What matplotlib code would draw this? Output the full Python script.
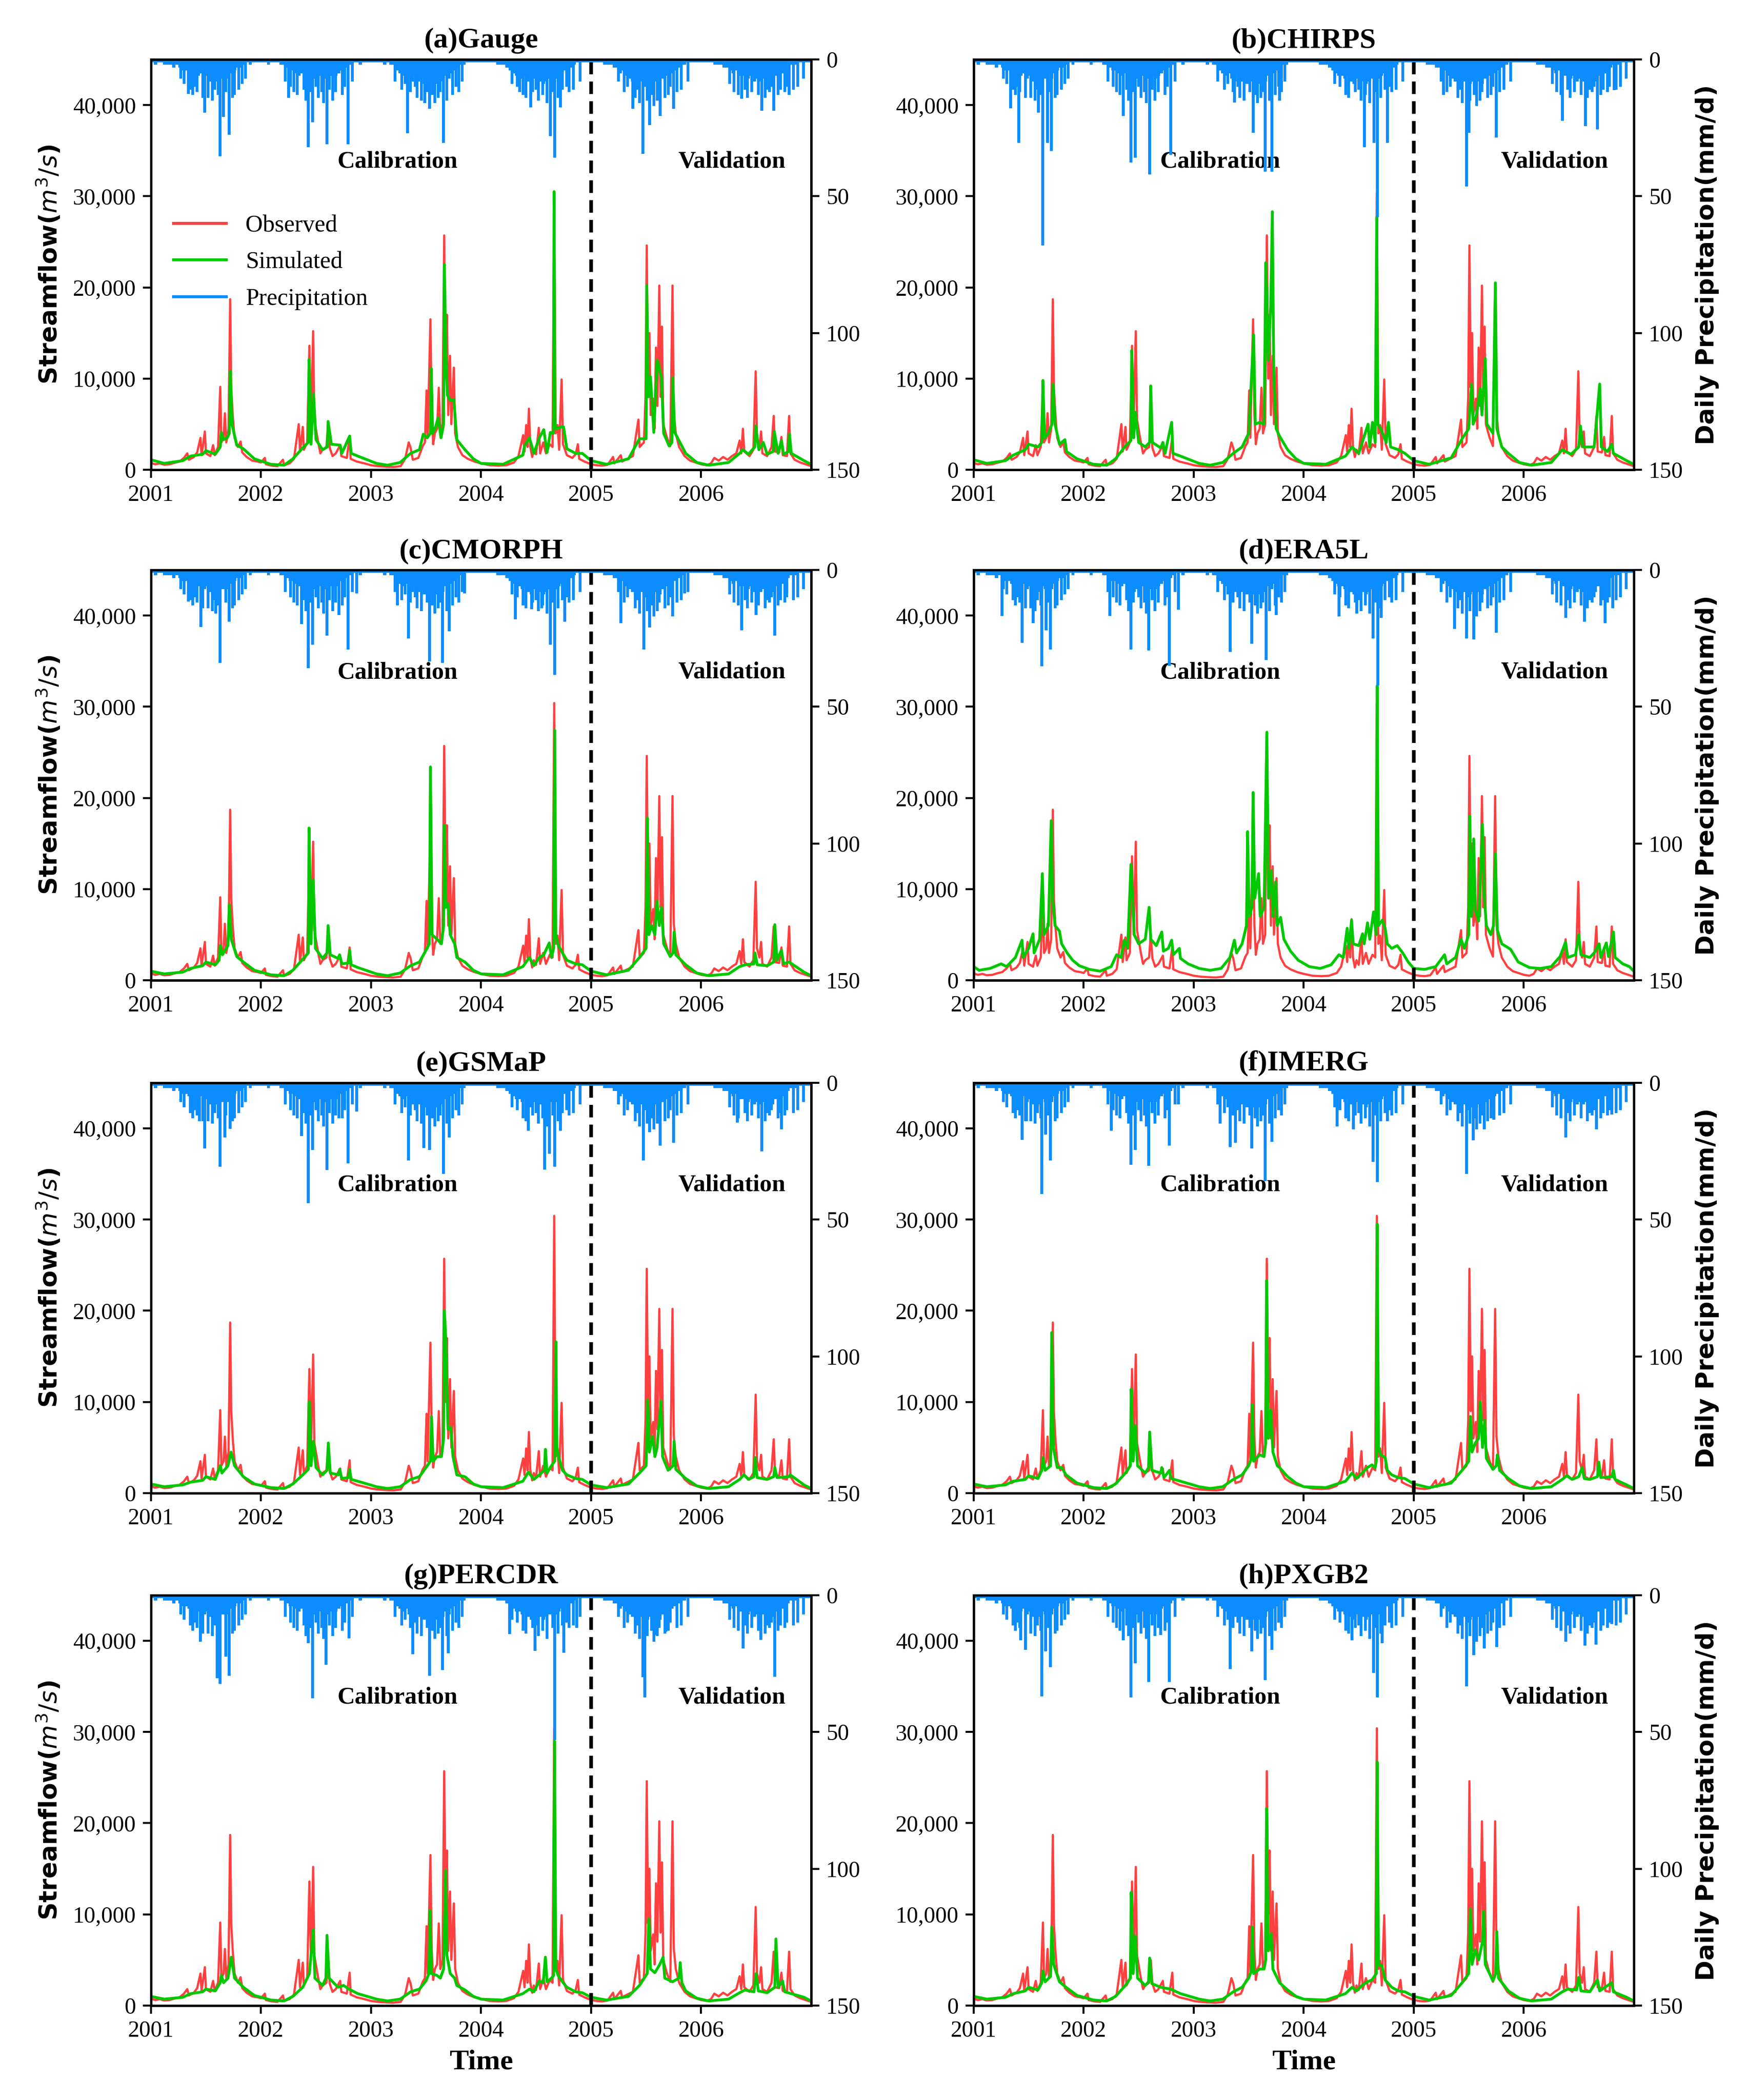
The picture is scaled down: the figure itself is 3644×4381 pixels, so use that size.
import numpy as np
import matplotlib
matplotlib.use('Agg')
from matplotlib import pyplot as plt
from matplotlib.lines import Line2D
from matplotlib.ticker import FuncFormatter

plt.rcParams['font.family'] = 'Liberation Serif'
plt.rcParams['mathtext.fontset'] = 'dejavusans'

RED = '#ff4040'
GREEN = '#00c800'
BLUE = '#0b8cff'

titles = ['(a)Gauge', '(b)CHIRPS', '(c)CMORPH', '(d)ERA5L',
          '(e)GSMaP', '(f)IMERG', '(g)PERCDR', '(h)PXGB2']

# observed streamflow (decimal year, m3/s), same in every panel
obs = [(2001.000, 1000), (2001.010, 700), (2001.040, 600), (2001.080, 700), (2001.120, 550),
       (2001.170, 600), (2001.210, 750), (2001.260, 900), (2001.300, 1300), (2001.330, 1800),
       (2001.345, 1100), (2001.390, 1400), (2001.420, 1900), (2001.450, 3500), (2001.460, 1600),
       (2001.490, 4200), (2001.500, 1800), (2001.540, 1500), (2001.565, 2700), (2001.580, 1600),
       (2001.610, 2500), (2001.630, 9100), (2001.640, 3000), (2001.660, 3500), (2001.672, 6200),
       (2001.685, 3000), (2001.705, 4500), (2001.720, 18700), (2001.730, 8900), (2001.745, 5700),
       (2001.760, 3500), (2001.790, 2500), (2001.815, 3100), (2001.830, 1900), (2001.870, 1400),
       (2001.920, 1000), (2001.970, 900), (2002.000, 800), (2002.035, 1300), (2002.045, 600),
       (2002.100, 450), (2002.150, 400), (2002.200, 1100), (2002.210, 500), (2002.260, 700),
       (2002.300, 1200), (2002.343, 5000), (2002.355, 2000), (2002.380, 4700), (2002.390, 2200),
       (2002.420, 3000), (2002.440, 13600), (2002.455, 5000), (2002.474, 15200), (2002.485, 5500),
       (2002.520, 3000), (2002.540, 1800), (2002.560, 2200), (2002.595, 2500), (2002.610, 5000),
       (2002.625, 2400), (2002.650, 1500), (2002.680, 1800), (2002.720, 2700), (2002.730, 1500),
       (2002.780, 1300), (2002.806, 3600), (2002.815, 1200), (2002.870, 900), (2002.940, 700),
       (2003.000, 500), (2003.060, 400), (2003.120, 350), (2003.200, 300), (2003.270, 400),
       (2003.310, 1200), (2003.343, 3000), (2003.360, 2400), (2003.380, 1100), (2003.430, 1300),
       (2003.470, 2600), (2003.490, 3000), (2003.505, 8700), (2003.515, 3500), (2003.540, 16500),
       (2003.552, 6000), (2003.565, 2800), (2003.580, 4000), (2003.600, 4500), (2003.616, 9000),
       (2003.630, 4000), (2003.650, 5000), (2003.665, 25700), (2003.678, 10000), (2003.690, 17000),
       (2003.702, 6000), (2003.718, 12500), (2003.730, 5000), (2003.753, 11200), (2003.765, 4000),
       (2003.790, 2500), (2003.830, 1600), (2003.880, 1200), (2003.940, 900), (2004.000, 700),
       (2004.080, 500), (2004.160, 450), (2004.230, 500), (2004.300, 800), (2004.340, 1500),
       (2004.383, 3800), (2004.395, 2000), (2004.410, 4900), (2004.422, 2500), (2004.435, 6700),
       (2004.448, 2500), (2004.465, 1400), (2004.480, 2200), (2004.500, 1700), (2004.525, 4600),
       (2004.537, 1800), (2004.566, 3000), (2004.590, 1800), (2004.625, 2800), (2004.650, 2500),
       (2004.665, 30400), (2004.678, 4000), (2004.695, 4900), (2004.710, 2200), (2004.732, 9900),
       (2004.745, 2800), (2004.780, 1600), (2004.830, 1300), (2004.860, 1700), (2004.880, 2800),
       (2004.892, 1200), (2004.940, 900), (2005.000, 600), (2005.050, 500), (2005.100, 450),
       (2005.150, 550), (2005.200, 1400), (2005.212, 700), (2005.270, 1600), (2005.282, 900),
       (2005.330, 1200), (2005.380, 1500), (2005.430, 5500), (2005.442, 2500), (2005.480, 3000),
       (2005.495, 8000), (2005.506, 24600), (2005.518, 9000), (2005.530, 15000), (2005.542, 6000),
       (2005.565, 7800), (2005.577, 4500), (2005.590, 13400), (2005.603, 7000), (2005.620, 20200),
       (2005.632, 8000), (2005.644, 15700), (2005.656, 5000), (2005.690, 3500), (2005.720, 2600),
       (2005.740, 20200), (2005.752, 6200), (2005.770, 4000), (2005.800, 2500), (2005.850, 1500),
       (2005.900, 1000), (2005.950, 800), (2006.000, 600), (2006.050, 500), (2006.090, 700),
       (2006.120, 1300), (2006.160, 1000), (2006.200, 1400), (2006.240, 1100), (2006.280, 1500),
       (2006.320, 1800), (2006.350, 3200), (2006.365, 1800), (2006.380, 4500), (2006.392, 2000),
       (2006.440, 1500), (2006.475, 2200), (2006.496, 10800), (2006.508, 3500), (2006.530, 2500),
       (2006.545, 4200), (2006.557, 1800), (2006.600, 1500), (2006.640, 2500), (2006.660, 5900),
       (2006.672, 2000), (2006.710, 1900), (2006.730, 3600), (2006.742, 1600), (2006.780, 1500),
       (2006.800, 5900), (2006.812, 1800), (2006.850, 1100), (2006.900, 800), (2006.950, 600),
       (2007.000, 400)]

# simulated streamflow per product
sim_gauge = [(2001.000, 1100), (2001.120, 700), (2001.290, 1000), (2001.360, 1500), (2001.470, 1700),
             (2001.500, 2100), (2001.585, 1700), (2001.630, 2500), (2001.640, 4100), (2001.660, 3300),
             (2001.693, 3500), (2001.712, 4000), (2001.722, 10800), (2001.738, 4900), (2001.780, 2700),
             (2001.840, 2300), (2001.940, 1200), (2002.090, 600), (2002.210, 500), (2002.290, 1200),
             (2002.380, 2400), (2002.430, 3000), (2002.437, 12100), (2002.455, 2800), (2002.478, 8300),
             (2002.500, 3300), (2002.560, 2200), (2002.603, 2500), (2002.610, 5300), (2002.640, 2800),
             (2002.720, 2700), (2002.735, 1800), (2002.806, 3700), (2002.820, 1800), (2002.880, 1500),
             (2003.050, 700), (2003.150, 500), (2003.265, 800), (2003.360, 1800), (2003.440, 2200),
             (2003.475, 3900), (2003.510, 3500), (2003.540, 4000), (2003.548, 11100), (2003.560, 4000),
             (2003.587, 4700), (2003.610, 5700), (2003.636, 3500), (2003.660, 5000), (2003.667, 22500),
             (2003.680, 13000), (2003.694, 8200), (2003.720, 7600), (2003.753, 7700), (2003.780, 3300),
             (2003.854, 2200), (2003.930, 1200), (2004.000, 700), (2004.200, 600), (2004.380, 1600),
             (2004.395, 2600), (2004.440, 3500), (2004.480, 1800), (2004.530, 3500), (2004.570, 4400),
             (2004.600, 1900), (2004.630, 4100), (2004.658, 4000), (2004.664, 30500), (2004.672, 5000),
             (2004.685, 4500), (2004.730, 4700), (2004.750, 4700), (2004.780, 2300), (2004.860, 1800),
             (2004.920, 1800), (2005.000, 1000), (2005.140, 600), (2005.340, 1200), (2005.440, 3400),
             (2005.500, 3400), (2005.506, 20200), (2005.520, 8000), (2005.540, 10200), (2005.570, 4100),
             (2005.600, 12000), (2005.610, 11700), (2005.640, 10000), (2005.660, 4000), (2005.710, 2600),
             (2005.735, 3000), (2005.742, 10100), (2005.760, 4100), (2005.860, 1800), (2005.960, 800),
             (2006.070, 500), (2006.250, 800), (2006.350, 1800), (2006.380, 2200), (2006.430, 1700),
             (2006.488, 2500), (2006.496, 4800), (2006.525, 2200), (2006.565, 3000), (2006.600, 1700),
             (2006.655, 2000), (2006.665, 4200), (2006.700, 1800), (2006.730, 3200), (2006.750, 1700),
             (2006.795, 2000), (2006.803, 3900), (2006.820, 1800), (2006.935, 1000), (2007.000, 600)]

sim_chirps = [(2001.000, 1100), (2001.120, 700), (2001.290, 1000), (2001.360, 1600), (2001.470, 2200),
              (2001.500, 2800), (2001.585, 2500), (2001.620, 3000), (2001.630, 9800), (2001.645, 3500),
              (2001.680, 4000), (2001.712, 5000), (2001.722, 9400), (2001.740, 5000), (2001.780, 2800),
              (2001.830, 3300), (2001.845, 2000), (2001.940, 1200), (2002.090, 600), (2002.210, 500),
              (2002.290, 1200), (2002.380, 2600), (2002.430, 3200), (2002.437, 13100), (2002.455, 3500),
              (2002.470, 6300), (2002.500, 3000), (2002.560, 2500), (2002.600, 3000), (2002.610, 9200),
              (2002.625, 3000), (2002.700, 2400), (2002.720, 3000), (2002.740, 1800), (2002.800, 5200),
              (2002.812, 1800), (2002.880, 1500), (2003.050, 700), (2003.150, 500), (2003.265, 800),
              (2003.360, 1800), (2003.440, 2500), (2003.500, 4000), (2003.545, 14800), (2003.560, 5000),
              (2003.600, 5200), (2003.640, 5000), (2003.655, 22700), (2003.665, 18900), (2003.678, 12000),
              (2003.700, 18000), (2003.715, 28300), (2003.728, 10400), (2003.750, 4500), (2003.780, 3700),
              (2003.854, 2200), (2003.930, 1200), (2004.000, 700), (2004.200, 600), (2004.380, 1500),
              (2004.440, 2500), (2004.500, 1800), (2004.540, 3300), (2004.585, 5000), (2004.600, 2500),
              (2004.625, 5200), (2004.650, 3000), (2004.664, 27700), (2004.672, 5000), (2004.700, 4500),
              (2004.750, 3000), (2004.770, 5200), (2004.790, 2500), (2004.860, 2200), (2004.920, 1800),
              (2005.000, 1000), (2005.140, 600), (2005.340, 1300), (2005.440, 3400), (2005.500, 4500),
              (2005.525, 9400), (2005.540, 5000), (2005.570, 6000), (2005.605, 8900), (2005.620, 6000),
              (2005.650, 12200), (2005.665, 5000), (2005.720, 4000), (2005.742, 20500), (2005.756, 4500),
              (2005.800, 2500), (2005.860, 1800), (2005.960, 800), (2006.070, 500), (2006.250, 800),
              (2006.350, 2200), (2006.380, 2000), (2006.430, 1700), (2006.500, 2500), (2006.515, 4800),
              (2006.540, 2500), (2006.640, 2500), (2006.690, 9400), (2006.705, 2500), (2006.760, 2000),
              (2006.800, 2800), (2006.815, 1800), (2006.935, 1000), (2007.000, 600)]

sim_cmorph = [(2001.000, 1000), (2001.120, 700), (2001.290, 900), (2001.360, 1300), (2001.470, 1600),
              (2001.500, 2000), (2001.585, 1700), (2001.620, 2200), (2001.630, 3800), (2001.650, 2800),
              (2001.700, 3800), (2001.712, 8300), (2001.730, 4500), (2001.780, 2600), (2001.840, 2000),
              (2001.940, 1100), (2002.090, 600), (2002.210, 500), (2002.290, 1100), (2002.380, 2300),
              (2002.430, 3000), (2002.437, 16700), (2002.455, 4000), (2002.475, 11000), (2002.495, 3500),
              (2002.560, 2400), (2002.600, 3000), (2002.610, 6000), (2002.630, 2800), (2002.700, 2400),
              (2002.715, 2800), (2002.735, 1800), (2002.795, 1900), (2002.806, 3300), (2002.820, 1700),
              (2002.880, 1400), (2003.050, 700), (2003.150, 500), (2003.265, 800), (2003.360, 1600),
              (2003.440, 2000), (2003.500, 3300), (2003.530, 4000), (2003.540, 23400), (2003.555, 5000),
              (2003.600, 4500), (2003.640, 4000), (2003.660, 6000), (2003.667, 17000), (2003.680, 8000),
              (2003.700, 8400), (2003.720, 5000), (2003.760, 4000), (2003.780, 2500), (2003.854, 2000),
              (2003.930, 1100), (2004.000, 700), (2004.200, 600), (2004.380, 1500), (2004.440, 2500),
              (2004.480, 1600), (2004.530, 2500), (2004.570, 2800), (2004.620, 4100), (2004.640, 2500),
              (2004.660, 3500), (2004.670, 27400), (2004.680, 5000), (2004.700, 3900), (2004.740, 3000),
              (2004.780, 2200), (2004.860, 1800), (2004.920, 1700), (2005.000, 1000), (2005.140, 600),
              (2005.340, 1100), (2005.440, 2500), (2005.500, 3500), (2005.512, 17800), (2005.525, 5000),
              (2005.550, 6000), (2005.580, 5000), (2005.600, 8700), (2005.620, 6000), (2005.640, 8000),
              (2005.660, 4000), (2005.720, 2600), (2005.745, 3000), (2005.755, 5300), (2005.770, 2800),
              (2005.860, 1700), (2005.960, 800), (2006.070, 500), (2006.250, 700), (2006.350, 1500),
              (2006.400, 1700), (2006.480, 1800), (2006.490, 3000), (2006.510, 1700), (2006.600, 1600),
              (2006.660, 2000), (2006.670, 6100), (2006.690, 2200), (2006.730, 3300), (2006.750, 1800),
              (2006.800, 2000), (2006.935, 900), (2007.000, 500)]

sim_era5l = [(2001.000, 1500), (2001.050, 1100), (2001.150, 1300), (2001.250, 1800), (2001.300, 1500),
             (2001.380, 2500), (2001.440, 4400), (2001.450, 2500), (2001.500, 3500), (2001.540, 5100),
             (2001.550, 3000), (2001.600, 4500), (2001.625, 11700), (2001.640, 5000), (2001.680, 6000),
             (2001.705, 17500), (2001.718, 9000), (2001.740, 6000), (2001.780, 5400), (2001.800, 4000),
             (2001.850, 3000), (2001.900, 2200), (2001.960, 1600), (2002.050, 1200), (2002.150, 1000),
             (2002.250, 1500), (2002.300, 2800), (2002.340, 2500), (2002.370, 4400), (2002.400, 3500),
             (2002.430, 12700), (2002.445, 9100), (2002.460, 5000), (2002.500, 4000), (2002.560, 4500),
             (2002.595, 8000), (2002.610, 4500), (2002.660, 3800), (2002.710, 5300), (2002.725, 3200),
             (2002.770, 3500), (2002.800, 4400), (2002.815, 2800), (2002.870, 3500), (2002.880, 2400),
             (2002.950, 1800), (2003.050, 1300), (2003.150, 1100), (2003.250, 1300), (2003.330, 2500),
             (2003.370, 4400), (2003.390, 3000), (2003.440, 4000), (2003.480, 6000), (2003.490, 16300),
             (2003.505, 7000), (2003.530, 8000), (2003.540, 20600), (2003.555, 9000), (2003.590, 11700),
             (2003.605, 7000), (2003.640, 8000), (2003.665, 27200), (2003.680, 9000), (2003.705, 12000),
             (2003.720, 7000), (2003.745, 10800), (2003.760, 6000), (2003.790, 6900), (2003.820, 4500),
             (2003.880, 3200), (2003.950, 2200), (2004.050, 1500), (2004.150, 1300), (2004.250, 1700),
             (2004.320, 2800), (2004.360, 2500), (2004.395, 5700), (2004.410, 3500), (2004.435, 6600),
             (2004.450, 4000), (2004.500, 3800), (2004.535, 5100), (2004.550, 4000), (2004.580, 6300),
             (2004.600, 4500), (2004.635, 7500), (2004.658, 5000), (2004.668, 32300), (2004.680, 6000),
             (2004.715, 6600), (2004.740, 5700), (2004.760, 4000), (2004.800, 3500), (2004.850, 3800),
             (2004.900, 3000), (2004.950, 2000), (2005.000, 1300), (2005.100, 1200), (2005.200, 1500),
             (2005.280, 2800), (2005.300, 1800), (2005.380, 2500), (2005.430, 4500), (2005.460, 3500),
             (2005.500, 5000), (2005.510, 18000), (2005.525, 7000), (2005.545, 15500), (2005.560, 7700),
             (2005.590, 6500), (2005.625, 17100), (2005.640, 9400), (2005.660, 6000), (2005.700, 5000),
             (2005.725, 6000), (2005.742, 13900), (2005.760, 5500), (2005.800, 4000), (2005.880, 3400),
             (2005.950, 2000), (2006.050, 1400), (2006.150, 1300), (2006.250, 1500), (2006.330, 2600),
             (2006.380, 4200), (2006.400, 2500), (2006.470, 2800), (2006.500, 5000), (2006.520, 2800),
             (2006.600, 2500), (2006.640, 3000), (2006.685, 4000), (2006.700, 2500), (2006.750, 4100),
             (2006.770, 2600), (2006.815, 5300), (2006.830, 2500), (2006.900, 1800), (2006.960, 1500),
             (2007.000, 1000)]

sim_gsmap = [(2001.000, 1000), (2001.120, 700), (2001.290, 900), (2001.360, 1200), (2001.470, 1400),
             (2001.500, 1800), (2001.585, 1500), (2001.630, 3000), (2001.645, 2200), (2001.700, 3000),
             (2001.728, 4500), (2001.760, 3000), (2001.840, 1800), (2001.940, 1000), (2002.090, 600),
             (2002.210, 500), (2002.290, 1000), (2002.380, 2000), (2002.430, 2600), (2002.440, 10000),
             (2002.455, 3000), (2002.478, 5700), (2002.500, 2800), (2002.560, 2000), (2002.600, 2500),
             (2002.612, 5500), (2002.630, 2200), (2002.705, 2000), (2002.715, 2600), (2002.735, 1600),
             (2002.795, 1700), (2002.806, 2600), (2002.820, 1500), (2002.880, 1300), (2003.050, 700),
             (2003.150, 500), (2003.265, 700), (2003.360, 1500), (2003.440, 1800), (2003.500, 2800),
             (2003.540, 3500), (2003.550, 8400), (2003.565, 3500), (2003.600, 4000), (2003.640, 4000),
             (2003.660, 6000), (2003.667, 20000), (2003.680, 16900), (2003.700, 7000), (2003.725, 7200),
             (2003.745, 4000), (2003.780, 2000), (2003.854, 1800), (2003.930, 1000), (2004.000, 700),
             (2004.200, 600), (2004.380, 1300), (2004.430, 2300), (2004.480, 1500), (2004.530, 2000),
             (2004.575, 2500), (2004.585, 4800), (2004.600, 2200), (2004.640, 3000), (2004.670, 3500),
             (2004.680, 16600), (2004.690, 5000), (2004.705, 4000), (2004.740, 2500), (2004.780, 2000),
             (2004.860, 1600), (2004.920, 1500), (2005.000, 900), (2005.140, 600), (2005.340, 1000),
             (2005.440, 2200), (2005.500, 3000), (2005.515, 10200), (2005.530, 4500), (2005.560, 6200),
             (2005.580, 4000), (2005.600, 5000), (2005.635, 10100), (2005.650, 4000), (2005.700, 2500),
             (2005.745, 3000), (2005.755, 5700), (2005.770, 2600), (2005.860, 1600), (2005.960, 800),
             (2006.070, 500), (2006.250, 700), (2006.350, 1500), (2006.390, 2000), (2006.430, 1500),
             (2006.480, 1800), (2006.490, 3900), (2006.510, 1700), (2006.600, 1500), (2006.660, 1800),
             (2006.670, 2800), (2006.690, 1700), (2006.800, 1800), (2006.810, 2000), (2006.935, 900),
             (2007.000, 500)]

sim_imerg = [(2001.000, 1000), (2001.120, 700), (2001.290, 900), (2001.360, 1300), (2001.470, 1500),
             (2001.500, 1900), (2001.585, 1600), (2001.620, 2500), (2001.630, 3900), (2001.650, 2500),
             (2001.700, 3000), (2001.710, 17600), (2001.725, 5000), (2001.760, 2800), (2001.800, 2800),
             (2001.840, 2000), (2001.940, 1100), (2002.090, 600), (2002.210, 500), (2002.290, 1000),
             (2002.380, 2200), (2002.425, 3000), (2002.432, 11400), (2002.450, 3500), (2002.470, 7400),
             (2002.490, 3000), (2002.560, 2200), (2002.590, 2800), (2002.600, 6700), (2002.620, 2500),
             (2002.700, 2200), (2002.710, 2800), (2002.730, 1700), (2002.780, 2500), (2002.795, 1600),
             (2002.880, 1300), (2003.050, 700), (2003.150, 500), (2003.265, 700), (2003.360, 1500),
             (2003.440, 2000), (2003.500, 3000), (2003.525, 3800), (2003.532, 9700), (2003.545, 3500),
             (2003.600, 4200), (2003.640, 4000), (2003.655, 5500), (2003.662, 23300), (2003.678, 6000),
             (2003.700, 9100), (2003.720, 4500), (2003.760, 3000), (2003.780, 2800), (2003.854, 1800),
             (2003.930, 1100), (2004.000, 700), (2004.200, 600), (2004.380, 1300), (2004.440, 2200),
             (2004.480, 1600), (2004.530, 2200), (2004.580, 2800), (2004.620, 3100), (2004.650, 2800),
             (2004.660, 3500), (2004.668, 29500), (2004.680, 5000), (2004.700, 4200), (2004.740, 3900),
             (2004.760, 2500), (2004.800, 2000), (2004.860, 1700), (2004.920, 1600), (2005.000, 1000),
             (2005.140, 600), (2005.340, 1100), (2005.440, 2500), (2005.500, 3500), (2005.515, 8400),
             (2005.530, 4500), (2005.560, 5500), (2005.590, 6000), (2005.605, 10000), (2005.625, 5000),
             (2005.645, 8000), (2005.660, 3800), (2005.720, 2600), (2005.750, 3000), (2005.760, 4200),
             (2005.780, 2500), (2005.860, 1600), (2005.960, 800), (2006.070, 500), (2006.250, 700),
             (2006.350, 1500), (2006.390, 1900), (2006.440, 1500), (2006.500, 1800), (2006.530, 2800),
             (2006.550, 1600), (2006.600, 1500), (2006.670, 1800), (2006.682, 3400), (2006.700, 1700),
             (2006.800, 1800), (2006.815, 2500), (2006.830, 1500), (2006.935, 900), (2007.000, 500)]

sim_percdr = [(2001.000, 1000), (2001.120, 700), (2001.290, 900), (2001.360, 1300), (2001.470, 1500),
              (2001.500, 1800), (2001.585, 1600), (2001.630, 2500), (2001.640, 3300), (2001.660, 2500),
              (2001.700, 3000), (2001.730, 5300), (2001.760, 3000), (2001.840, 2000), (2001.940, 1100),
              (2002.090, 600), (2002.210, 500), (2002.290, 1000), (2002.380, 2000), (2002.440, 3500),
              (2002.475, 8300), (2002.490, 3000), (2002.560, 2200), (2002.590, 3000), (2002.600, 7700),
              (2002.620, 3000), (2002.700, 2000), (2002.750, 2200), (2002.800, 1800), (2002.880, 1300),
              (2003.050, 700), (2003.150, 500), (2003.265, 700), (2003.360, 1500), (2003.440, 1800),
              (2003.500, 2700), (2003.527, 3500), (2003.535, 10400), (2003.550, 3500), (2003.600, 3300),
              (2003.630, 3000), (2003.660, 4000), (2003.678, 14800), (2003.690, 5500), (2003.720, 3500),
              (2003.760, 3000), (2003.780, 2200), (2003.854, 1700), (2003.930, 1000), (2004.000, 700),
              (2004.200, 600), (2004.380, 1300), (2004.440, 1800), (2004.480, 1500), (2004.530, 2700),
              (2004.565, 2500), (2004.585, 5300), (2004.600, 2600), (2004.640, 3000), (2004.660, 3300),
              (2004.668, 29000), (2004.680, 4000), (2004.700, 3300), (2004.740, 2600), (2004.780, 2000),
              (2004.860, 1500), (2004.920, 1400), (2005.000, 900), (2005.140, 600), (2005.340, 1000),
              (2005.440, 2200), (2005.510, 3500), (2005.525, 9500), (2005.540, 4000), (2005.580, 3600),
              (2005.620, 4400), (2005.655, 5300), (2005.670, 3000), (2005.740, 2600), (2005.800, 3000),
              (2005.810, 4700), (2005.825, 2500), (2005.860, 1600), (2005.960, 800), (2006.070, 500),
              (2006.250, 700), (2006.350, 1400), (2006.400, 1700), (2006.480, 1500), (2006.500, 3500),
              (2006.520, 1600), (2006.600, 1400), (2006.670, 2000), (2006.680, 7300), (2006.700, 2000),
              (2006.740, 2700), (2006.760, 1500), (2006.935, 900), (2007.000, 500)]

sim_pxgb2 = [(2001.000, 1000), (2001.120, 700), (2001.290, 900), (2001.360, 1300), (2001.470, 1600),
             (2001.500, 2000), (2001.585, 1700), (2001.620, 2500), (2001.630, 3800), (2001.650, 2600),
             (2001.700, 3200), (2001.710, 8600), (2001.728, 4500), (2001.780, 2600), (2001.840, 2000),
             (2001.940, 1100), (2002.090, 600), (2002.210, 500), (2002.290, 1000), (2002.380, 2200),
             (2002.425, 3000), (2002.432, 12400), (2002.450, 3500), (2002.470, 7600), (2002.490, 3000),
             (2002.560, 2200), (2002.590, 2600), (2002.600, 5200), (2002.620, 2400), (2002.700, 2000),
             (2002.790, 1800), (2002.880, 1300), (2003.050, 700), (2003.150, 500), (2003.265, 700),
             (2003.360, 1500), (2003.440, 2000), (2003.500, 3000), (2003.525, 3800), (2003.532, 8600),
             (2003.545, 3500), (2003.600, 4000), (2003.640, 4000), (2003.655, 5000), (2003.662, 21600),
             (2003.678, 6000), (2003.705, 7900), (2003.720, 4000), (2003.780, 2500), (2003.854, 1700),
             (2003.930, 1000), (2004.000, 700), (2004.200, 600), (2004.380, 1300), (2004.440, 2000),
             (2004.480, 1600), (2004.530, 2200), (2004.580, 2600), (2004.620, 2800), (2004.660, 3500),
             (2004.668, 26700), (2004.680, 4400), (2004.710, 4400), (2004.740, 2800), (2004.800, 2000),
             (2004.860, 1600), (2004.920, 1500), (2005.000, 1000), (2005.140, 600), (2005.340, 1100),
             (2005.440, 2500), (2005.500, 3500), (2005.515, 10600), (2005.530, 4500), (2005.560, 6100),
             (2005.590, 5000), (2005.625, 7000), (2005.635, 10300), (2005.650, 4500), (2005.720, 2700),
             (2005.745, 3500), (2005.755, 8100), (2005.770, 3000), (2005.860, 1600), (2005.960, 800),
             (2006.070, 500), (2006.250, 700), (2006.350, 1500), (2006.400, 1800), (2006.480, 1700),
             (2006.500, 3100), (2006.520, 1600), (2006.600, 1500), (2006.670, 2800), (2006.690, 1600),
             (2006.800, 2500), (2006.815, 1500), (2006.935, 900), (2007.000, 500)]

# typical daily rain (mm/d), 10-day blocks, 36 per year, shared by all products
rain_base = [1, 2, 1, 1, 2, 2, 2, 3, 2, 3, 4, 4, 5, 4, 6, 6, 5, 7, 6, 8, 7, 8, 6, 7, 6, 7, 5, 4, 3, 3, 2, 1, 2, 1, 1, 1,
             1, 1, 2, 1, 1, 1, 2, 2, 3, 4, 4, 5, 6, 5, 7, 6, 8, 7, 8, 6, 9, 7, 6, 7, 6, 5, 4, 3, 3, 2, 1, 1, 2, 1, 1, 1,
             1, 1, 1, 1, 2, 1, 2, 2, 4, 5, 6, 5, 7, 8, 6, 8, 7, 9, 8, 9, 8, 9, 7, 8, 6, 7, 5, 4, 3, 2, 2, 1, 1, 1, 1, 1,
             1, 1, 1, 1, 1, 2, 2, 2, 3, 4, 5, 6, 6, 7, 6, 8, 9, 7, 9, 8, 9, 8, 7, 8, 7, 6, 5, 4, 3, 3, 2, 1, 1, 1, 1, 1,
             1, 1, 1, 1, 2, 2, 2, 3, 3, 5, 4, 6, 7, 8, 8, 9, 8, 10, 9, 8, 9, 8, 9, 7, 6, 6, 5, 4, 3, 2, 2, 1, 1, 1, 1, 1,
             1, 1, 1, 1, 2, 2, 2, 3, 3, 4, 5, 4, 6, 6, 7, 7, 6, 8, 7, 8, 7, 8, 7, 8, 6, 6, 5, 4, 3, 2, 2, 2, 1, 1, 1, 1]

# medium rain days shared by all products
rain_mid = [(2001.27, 7), (2001.30, 9), (2001.36, 11), (2001.38, 13), (2001.40, 10), (2001.42, 12),
            (2001.47, 14), (2001.52, 14), (2001.56, 15), (2001.58, 11), (2001.61, 13), (2001.68, 12),
            (2001.74, 14), (2001.76, 13), (2001.80, 11), (2001.83, 9), (2001.86, 7),
            (2002.22, 8), (2002.27, 10), (2002.30, 12), (2002.33, 13), (2002.39, 11), (2002.41, 15),
            (2002.45, 12), (2002.50, 10), (2002.52, 14), (2002.55, 12), (2002.57, 16), (2002.62, 11),
            (2002.65, 15), (2002.68, 12), (2002.74, 13), (2002.76, 10), (2002.83, 8),
            (2003.22, 8), (2003.28, 11), (2003.31, 9), (2003.36, 12), (2003.40, 10), (2003.42, 14),
            (2003.46, 15), (2003.51, 12), (2003.56, 13), (2003.58, 16), (2003.61, 14), (2003.63, 12),
            (2003.69, 15), (2003.74, 13), (2003.77, 10), (2003.80, 12), (2003.83, 8),
            (2004.28, 9), (2004.33, 10), (2004.38, 13), (2004.41, 14), (2004.47, 12), (2004.50, 11),
            (2004.52, 15), (2004.56, 13), (2004.60, 16), (2004.65, 12), (2004.70, 14), (2004.74, 11),
            (2004.78, 10), (2004.80, 12), (2004.84, 11), (2004.90, 8),
            (2005.25, 8), (2005.30, 12), (2005.33, 10), (2005.40, 14), (2005.42, 11), (2005.44, 16),
            (2005.51, 15), (2005.55, 13), (2005.57, 17), (2005.60, 15), (2005.62, 12), (2005.67, 14),
            (2005.70, 13), (2005.72, 10), (2005.78, 12), (2005.82, 11), (2005.88, 8),
            (2006.26, 9), (2006.30, 12), (2006.34, 13), (2006.40, 11), (2006.42, 14), (2006.46, 12),
            (2006.52, 13), (2006.58, 14), (2006.60, 11), (2006.62, 12), (2006.64, 10), (2006.70, 13),
            (2006.72, 11), (2006.76, 12), (2006.78, 10), (2006.84, 11), (2006.88, 10), (2006.93, 7)]

# heavy rain days per product (decimal year, mm/d)
rain_gauge = [(2001.34, 12.6), (2001.49, 19.4), (2001.63, 35.4), (2001.66, 21), (2001.71, 27.6),
              (2002.25, 14), (2002.43, 32), (2002.47, 23), (2002.60, 31), (2002.79, 31),
              (2003.33, 27), (2003.49, 16), (2003.53, 18), (2003.66, 30.5), (2004.35, 12),
              (2004.45, 17.5), (2004.63, 28), (2004.67, 36), (2004.72, 17.5), (2005.38, 18),
              (2005.47, 34.5), (2005.53, 24), (2005.63, 20.6), (2005.75, 18), (2006.37, 14.4),
              (2006.55, 18.7), (2006.66, 18.7), (2006.80, 13)]
rain_chirps = [(2001.335, 17.9), (2001.41, 30.5), (2001.59, 19.4), (2001.63, 68), (2001.67, 30.5),
               (2001.705, 33.5), (2002.36, 20.6), (2002.43, 37.6), (2002.47, 36), (2002.60, 42),
               (2002.79, 34.8), (2003.37, 15.7), (2003.54, 26.8), (2003.65, 41), (2003.71, 41),
               (2003.78, 15), (2004.55, 32), (2004.64, 30.5), (2004.67, 57.6), (2004.76, 30.5),
               (2005.27, 13), (2005.48, 46.5), (2005.50, 26.8), (2005.75, 28.6), (2006.35, 22.4),
               (2006.56, 24.3), (2006.67, 25.5), (2006.82, 11.3)]
rain_cmorph = [(2001.34, 11.6), (2001.455, 20.8), (2001.59, 16), (2001.63, 34), (2001.71, 19),
               (2002.37, 19.8), (2002.43, 36), (2002.47, 27.4), (2002.60, 24), (2002.71, 16.5),
               (2002.79, 29), (2002.87, 8.6), (2003.24, 13), (2003.34, 25), (2003.53, 33.4),
               (2003.65, 34), (2003.71, 22.5), (2003.85, 8.6), (2004.31, 18), (2004.46, 14.3),
               (2004.55, 14), (2004.63, 27.4), (2004.67, 38.3), (2004.76, 19), (2005.27, 19.5),
               (2005.48, 29), (2005.53, 21), (2005.74, 17), (2005.85, 8.6), (2006.37, 22),
               (2006.50, 16.5), (2006.67, 24), (2006.78, 8.6)]
rain_era5l = [(2001.26, 16.8), (2001.44, 26.6), (2001.54, 19.5), (2001.62, 35.3), (2001.66, 22),
              (2001.70, 29), (2002.24, 16.8), (2002.43, 29), (2002.59, 29.4), (2002.78, 35),
              (2002.86, 14.5), (2003.33, 30), (2003.53, 27), (2003.66, 33), (2003.75, 16.5),
              (2004.32, 17), (2004.48, 16), (2004.63, 25), (2004.675, 42.3), (2004.705, 17.5),
              (2005.37, 21.5), (2005.48, 25), (2005.545, 25.4), (2005.75, 23), (2006.38, 17.5),
              (2006.55, 19), (2006.74, 19.5), (2006.81, 14)]
rain_gsmap = [(2001.44, 14), (2001.49, 24), (2001.63, 30.7), (2001.67, 20), (2001.72, 16.8),
              (2002.37, 19.5), (2002.43, 44), (2002.47, 24.5), (2002.60, 32), (2002.71, 13),
              (2002.79, 29.4), (2002.87, 10.6), (2003.34, 28.4), (2003.48, 23.8), (2003.53, 24.5),
              (2003.66, 33.4), (2003.71, 20), (2004.43, 17.5), (2004.58, 31.7), (2004.62, 26),
              (2004.67, 30.7), (2004.72, 17.5), (2005.475, 28.4), (2005.53, 18), (2005.63, 23),
              (2005.75, 22), (2006.33, 14.5), (2006.55, 25), (2006.73, 17)]
rain_imerg = [(2001.44, 20.8), (2001.48, 14), (2001.62, 40.6), (2001.655, 19), (2001.70, 28.4),
              (2002.25, 17.5), (2002.43, 30), (2002.47, 24.5), (2002.59, 30.4), (2002.78, 23),
              (2002.86, 8), (2003.24, 15), (2003.33, 23.5), (2003.38, 22), (2003.53, 24),
              (2003.65, 36), (2003.71, 21.5), (2004.305, 16), (2004.45, 17), (2004.63, 29),
              (2004.67, 36.3), (2004.76, 14), (2005.48, 33.4), (2005.54, 21), (2005.64, 17),
              (2005.73, 13.6), (2006.38, 20), (2006.66, 17), (2006.80, 11.6)]
rain_percdr = [(2001.45, 17), (2001.60, 30.4), (2001.63, 32.5), (2001.68, 22.5), (2001.71, 29.5),
               (2002.43, 17.6), (2002.47, 37.7), (2002.59, 25.5), (2002.80, 15.8), (2003.38, 21.6),
               (2003.53, 29.5), (2003.65, 27.3), (2003.70, 21.3), (2004.26, 14.3), (2004.49, 20.4),
               (2004.668, 53), (2004.75, 21), (2004.87, 12), (2005.47, 30), (2005.49, 37.4),
               (2005.58, 14.6), (2005.68, 13.4), (2006.38, 19.4), (2006.545, 16.4), (2006.67, 29.8)]
rain_pxgb2 = [(2001.43, 16.5), (2001.47, 20), (2001.62, 37), (2001.655, 20.5), (2001.70, 26.4),
              (2002.36, 16.5), (2002.43, 37.3), (2002.47, 25), (2002.59, 31.7), (2002.70, 14.5),
              (2002.78, 31.7), (2003.33, 27), (2003.53, 20.5), (2003.65, 31), (2003.71, 20),
              (2004.44, 16.5), (2004.635, 28.4), (2004.67, 37.3), (2004.715, 17.5), (2005.48, 33.4),
              (2005.545, 22), (2005.64, 19.5), (2005.755, 19), (2006.38, 17), (2006.555, 18.5),
              (2006.655, 18), (2006.80, 10.6)]

sims = [sim_gauge, sim_chirps, sim_cmorph, sim_era5l, sim_gsmap, sim_imerg, sim_percdr, sim_pxgb2]
rains = [rain_gauge, rain_chirps, rain_cmorph, rain_era5l, rain_gsmap, rain_imerg, rain_percdr, rain_pxgb2]

obs_t, obs_q = np.array(obs).T
mid_t, mid_p = np.array(rain_mid).T
base_x = 2001 + (np.arange(len(rain_base)) + 0.5) / 36.0

fig = plt.figure(figsize=(3644 / 300, 4381 / 300), dpi=300)

lefts = [0.0864, 0.5573]
bottoms = [0.7763, 0.5332, 0.2890, 0.0450]
w, h = 0.3779, 0.1954

comma = FuncFormatter(lambda v, p: '{:,.0f}'.format(v))

for i in range(8):
    row, col = i // 2, i % 2
    ax = fig.add_axes([lefts[col], bottoms[row], w, h])
    st, sq = np.array(sims[i]).T
    rt, rp = np.array(rains[i]).T

    ax.plot(obs_t, obs_q, color=RED, lw=1.1)
    ax.plot(st, sq, color=GREEN, lw=1.4)
    ax.axvline(2005, color='k', lw=1.8, ls=(0, (3.5, 2)))

    ax.set_xlim(2001, 2007)
    ax.set_ylim(0, 45000)
    ax.set_xticks(range(2001, 2007))
    ax.set_yticks([0, 10000, 20000, 30000, 40000])
    ax.yaxis.set_major_formatter(comma)
    ax.tick_params(direction='out', length=4, width=1, labelsize=11.5)
    for s in ax.spines.values():
        s.set_linewidth(1.2)

    ax.text(2003.24, 0.75, 'Calibration', transform=ax.get_xaxis_transform(),
            ha='center', va='center', fontsize=12.2, fontweight='bold')
    ax.text(2006.28, 0.75, 'Validation', transform=ax.get_xaxis_transform(),
            ha='center', va='center', fontsize=12.2, fontweight='bold')
    ax.set_title(titles[i], fontsize=14.5, fontweight='bold', pad=6)

    ax2 = ax.twinx()
    ax2.bar(base_x, rain_base, width=1 / 36.0, color=BLUE, linewidth=0)
    ax2.vlines(mid_t, 0, mid_p, color=BLUE, lw=1.4)
    ax2.vlines(rt, 0, rp, color=BLUE, lw=1.5)
    ax2.set_ylim(150, 0)
    ax2.set_yticks([0, 50, 100, 150])
    ax2.tick_params(direction='out', length=4, width=1, labelsize=11.5)
    for s in ax2.spines.values():
        s.set_linewidth(1.2)

    if col == 0:
        ax.set_ylabel('Streamflow($m^3/s$)', family='DejaVu Sans', fontweight='bold',
                      fontsize=12.4, labelpad=5)
    else:
        ax2.set_ylabel('Daily Precipitation(mm/d)', family='DejaVu Sans', fontweight='bold',
                       fontsize=12.4, labelpad=6)
    if row == 3:
        ax.set_xlabel('Time', fontsize=14.5, fontweight='bold')

    if i == 0:
        handles = [Line2D([], [], color=RED, lw=1.5),
                   Line2D([], [], color=GREEN, lw=1.5),
                   Line2D([], [], color=BLUE, lw=1.5)]
        ax.legend(handles, ['Observed', 'Simulated', 'Precipitation'], loc='upper left',
                  bbox_to_anchor=(0.02, 0.645), frameon=False, fontsize=12,
                  handlelength=2.2, handletextpad=0.8, labelspacing=0.6, borderaxespad=0)

fig.savefig('out.png', dpi=300)
